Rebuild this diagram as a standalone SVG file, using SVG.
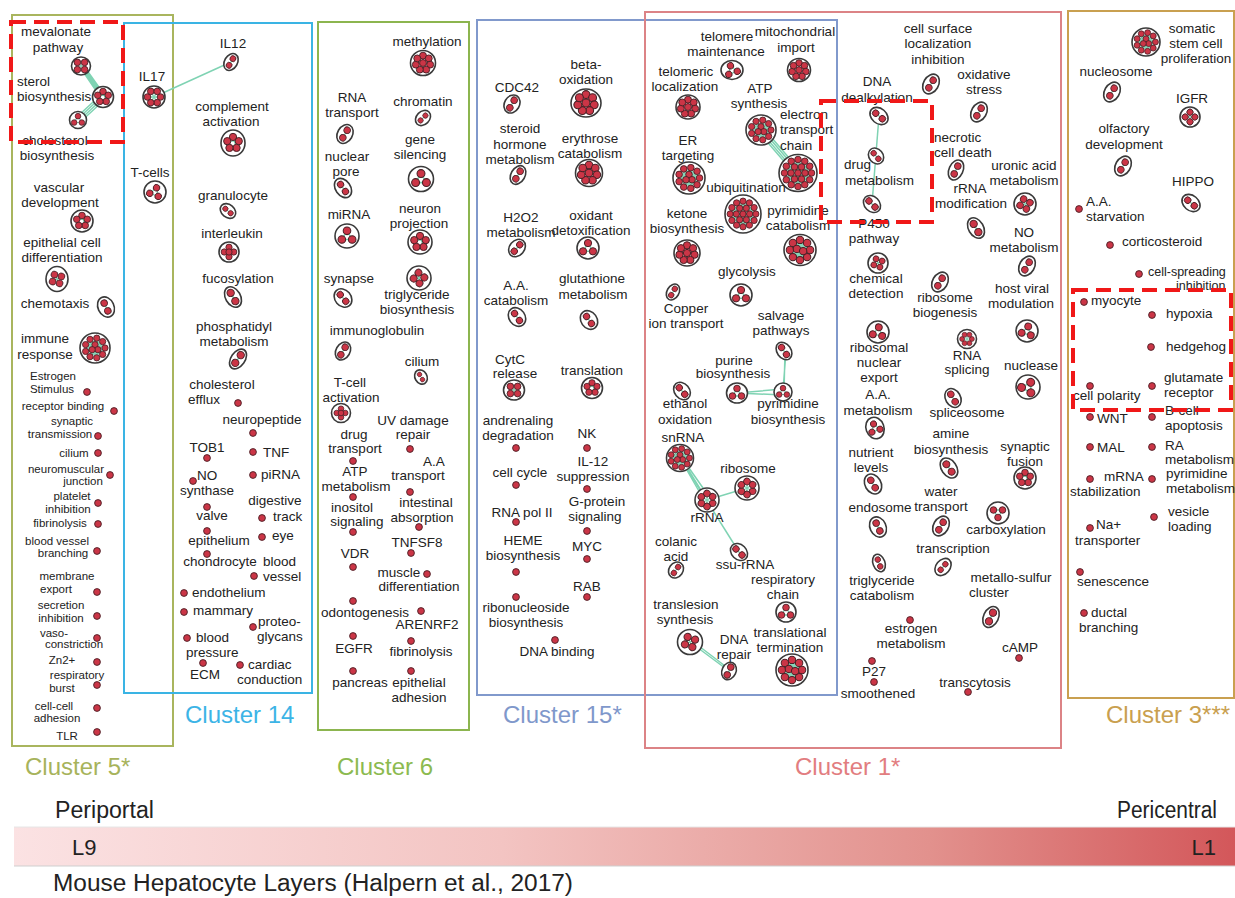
<svg xmlns="http://www.w3.org/2000/svg" xmlns:xlink="http://www.w3.org/1999/xlink" width="1235" height="898" viewBox="0 0 1235 898">
<style>
text{font-family:"Liberation Sans",Arial,sans-serif;fill:#222}
.t{font-size:13.5px;text-anchor:middle}
.tl{font-size:13.5px;text-anchor:start}
.s{font-size:11.5px;text-anchor:middle}
.o{fill:#fff;stroke:#3a3a3a;stroke-width:1.6}
.r{fill:#cb3546;stroke:#4a2026;stroke-width:0.9}
.e{stroke:#7fd3b3;stroke-width:1.3;fill:none}
.c{stroke:#7fd3b3;stroke-width:1.5;fill:none}
.box{fill:none;stroke-width:2}
.dash{fill:none;stroke:#f01818;stroke-width:4;stroke-dasharray:15 8}
.cl{font-size:24px}
</style>
<defs>
<linearGradient id="bar" x1="0" x2="1" y1="0" y2="0">
<stop offset="0" stop-color="#fbe2e3"/>
<stop offset="0.4" stop-color="#f3c4c2"/>
<stop offset="0.75" stop-color="#e2918d"/>
<stop offset="1" stop-color="#d3575a"/>
</linearGradient>
<g id="d2"><line class="e" x1="0" y1="-4.3" x2="0" y2="4.3"/><circle class="r" cx="0" cy="-4.3" r="3.3"/><circle class="r" cx="0" cy="4.3" r="3.3"/></g>
<g id="d3"><path class="e" d="M0-4.5L4.5 3L-4.5 3Z"/><circle class="r" cx="0" cy="-4.5" r="3.3"/><circle class="r" cx="4.5" cy="3" r="3.3"/><circle class="r" cx="-4.5" cy="3" r="3.3"/></g>
<g id="d4"><path class="e" d="M-3.6-3.6L3.6 3.6M3.6-3.6L-3.6 3.6M-3.6-3.6H3.6"/><circle class="r" cx="-3.6" cy="-3.6" r="3.3"/><circle class="r" cx="3.6" cy="-3.6" r="3.3"/><circle class="r" cx="3.6" cy="3.6" r="3.3"/><circle class="r" cx="-3.6" cy="3.6" r="3.3"/></g>
<g id="dplus"><path class="e" d="M0-5V5M-5 0H5"/><circle class="r" cx="0" cy="-5" r="3.3"/><circle class="r" cx="5" cy="0" r="3.3"/><circle class="r" cx="0" cy="5" r="3.3"/><circle class="r" cx="-5" cy="0" r="3.3"/><circle class="r" cx="0" cy="0" r="3.3"/></g>
<g id="d5"><path class="e" d="M0-5.5L5.23-1.7L3.23 4.45L-3.23 4.45L-5.23-1.7Z M0-5.5L3.23 4.45M-5.23-1.7L5.23-1.7"/><circle class="r" cx="0" cy="-5.5" r="3.3"/><circle class="r" cx="5.23" cy="-1.7" r="3.3"/><circle class="r" cx="3.23" cy="4.45" r="3.3"/><circle class="r" cx="-3.23" cy="4.45" r="3.3"/><circle class="r" cx="-5.23" cy="-1.7" r="3.3"/></g>
<g id="d6"><path class="e" d="M6.5 0L-6.5 0M3.25 5.63L-3.25-5.63M-3.25 5.63L3.25-5.63"/><circle class="r" cx="6.5" cy="0" r="3.3"/><circle class="r" cx="3.25" cy="5.63" r="3.3"/><circle class="r" cx="-3.25" cy="5.63" r="3.3"/><circle class="r" cx="-6.5" cy="0" r="3.3"/><circle class="r" cx="-3.25" cy="-5.63" r="3.3"/><circle class="r" cx="3.25" cy="-5.63" r="3.3"/></g>
<g id="d8"><path class="e" d="M0-7L0 0L6.82 1.56M-3.04 6.31L0 0L-5.47-4.36"/><circle class="r" cx="0" cy="-7" r="3.3"/><circle class="r" cx="5.47" cy="-4.36" r="3.3"/><circle class="r" cx="6.82" cy="1.56" r="3.3"/><circle class="r" cx="3.04" cy="6.31" r="3.3"/><circle class="r" cx="-3.04" cy="6.31" r="3.3"/><circle class="r" cx="-6.82" cy="1.56" r="3.3"/><circle class="r" cx="-5.47" cy="-4.36" r="3.3"/><circle class="r" cx="0" cy="0" r="3.3"/></g>
<g id="d10"><circle r="7" fill="#86d5b8"/><circle class="r" cx="9" cy="0" r="3.3"/><circle class="r" cx="6.36" cy="6.36" r="3.3"/><circle class="r" cx="0" cy="9" r="3.3"/><circle class="r" cx="-6.36" cy="6.36" r="3.3"/><circle class="r" cx="-9" cy="0" r="3.3"/><circle class="r" cx="-6.36" cy="-6.36" r="3.3"/><circle class="r" cx="0" cy="-9" r="3.3"/><circle class="r" cx="6.36" cy="-6.36" r="3.3"/><circle class="r" cx="-2.8" cy="-1" r="3.3"/><circle class="r" cx="2.8" cy="1" r="3.3"/></g>
<g id="d12"><circle r="8" fill="#86d5b8"/><circle class="r" cx="10.5" cy="0" r="3.3"/><circle class="r" cx="8.04" cy="6.75" r="3.3"/><circle class="r" cx="1.82" cy="10.34" r="3.3"/><circle class="r" cx="-5.25" cy="9.09" r="3.3"/><circle class="r" cx="-9.87" cy="3.59" r="3.3"/><circle class="r" cx="-9.87" cy="-3.59" r="3.3"/><circle class="r" cx="-5.25" cy="-9.09" r="3.3"/><circle class="r" cx="1.82" cy="-10.34" r="3.3"/><circle class="r" cx="8.04" cy="-6.75" r="3.3"/><circle class="r" cx="0" cy="-3.5" r="3.3"/><circle class="r" cx="3.03" cy="1.75" r="3.3"/><circle class="r" cx="-3.03" cy="1.75" r="3.3"/></g>
<g id="d20"><circle r="11" fill="#86d5b8"/><circle class="r" cx="13.5" cy="0" r="3.3"/><circle class="r" cx="11.69" cy="6.75" r="3.3"/><circle class="r" cx="6.75" cy="11.69" r="3.3"/><circle class="r" cx="0" cy="13.5" r="3.3"/><circle class="r" cx="-6.75" cy="11.69" r="3.3"/><circle class="r" cx="-11.69" cy="6.75" r="3.3"/><circle class="r" cx="-13.5" cy="0" r="3.3"/><circle class="r" cx="-11.69" cy="-6.75" r="3.3"/><circle class="r" cx="-6.75" cy="-11.69" r="3.3"/><circle class="r" cx="0" cy="-13.5" r="3.3"/><circle class="r" cx="6.75" cy="-11.69" r="3.3"/><circle class="r" cx="11.69" cy="-6.75" r="3.3"/><circle class="r" cx="7" cy="0" r="3.3"/><circle class="r" cx="3.5" cy="6.06" r="3.3"/><circle class="r" cx="-3.5" cy="6.06" r="3.3"/><circle class="r" cx="-7" cy="0" r="3.3"/><circle class="r" cx="-3.5" cy="-6.06" r="3.3"/><circle class="r" cx="3.5" cy="-6.06" r="3.3"/><circle class="r" cx="0" cy="0" r="3.3"/></g>
</defs>
<rect width="1235" height="898" fill="#fff"/>

<g id="cluster-boxes">
<rect class="box" x="12" y="15" width="161" height="731" stroke="#a9b55e"/>
<rect class="box" x="124" y="23" width="188" height="670" stroke="#3ab4e4"/>
<rect class="box" x="318" y="22" width="151" height="708" stroke="#8cb54f"/>
<rect class="box" x="477" y="20" width="360" height="675" stroke="#8199cc"/>
<rect class="box" x="645" y="12" width="416" height="736" stroke="#dc8386"/>
<rect class="box" x="1068" y="11" width="166" height="687" stroke="#c9a050"/>
<text class="cl" x="25" y="775" style="fill:#a7b35b">Cluster 5*</text>
<text class="cl" x="185" y="723" style="fill:#3cb4e6">Cluster 14</text>
<text class="cl" x="337" y="775" style="fill:#8cba50">Cluster 6</text>
<text class="cl" x="503" y="723" style="fill:#7f98cb">Cluster 15*</text>
<text class="cl" x="795" y="775" style="fill:#e27d80">Cluster 1*</text>
<text class="cl" x="1106" y="723" style="fill:#c9a04f">Cluster 3***</text>
</g>

<g id="connectors">
<path class="c" d="M80 67L101 98M81 66L102.3 97.5M82 65.5L103.7 96.5M83 64.6L105 95.6"/>
<path class="c" d="M101 94.8L76 117.8M102.3 96.3L77.3 119.3M103.7 97.7L78.7 120.7M105 99.2L80 122.2"/>
<line class="c" x1="154" y1="97" x2="231" y2="62"/>
<path class="c" d="M758.7 132L795.7 175M760.2 130.7L797.2 173.7M761.8 129.3L798.8 172.3M763.3 128L800.3 171"/>
<path class="c" d="M785 351L784 392M786 352L783 390"/>
<path class="c" d="M737 393L783 389M737 393L783 395"/>
<path class="c" d="M680 458L704 500M681 458L707 500M682 458L710 498"/>
<line class="c" x1="680" y1="458" x2="739" y2="552"/>
<line class="c" x1="707" y1="500" x2="747" y2="488"/>
<path class="c" d="M690 642L729 671M691 640L729 669"/>
<line class="c" x1="879" y1="116" x2="872" y2="204"/>
</g>

<g id="cluster5">
<g id="n-mevalonate"><text class="t" x="56" y="36">mevalonate</text><text class="t" x="58" y="52">pathway</text><g transform="translate(81,66)"><ellipse class="o" rx="9.5" ry="9"/><use href="#d4"/></g></g>
<g id="n-sterol"><text class="tl" x="17" y="86">sterol</text><text class="tl" x="17" y="101">biosynthesis</text><g transform="translate(103,97)"><ellipse class="o" rx="10.5" ry="10.5"/><use href="#d5"/></g></g>
<g id="n-cholesterol"><text class="t" x="55" y="145">cholesterol</text><text class="t" x="57" y="160">biosynthesis</text><g transform="translate(78,120)"><ellipse class="o" rx="8.5" ry="8.5"/><use href="#d3" transform="scale(0.85)"/></g></g>
<g id="n-vascular"><text class="t" x="59" y="192">vascular</text><text class="t" x="60" y="207">development</text><g transform="translate(82,221)"><ellipse class="o" rx="11" ry="11"/><use href="#d5"/></g></g>
<g id="n-epithelial"><text class="t" x="62" y="247">epithelial cell</text><text class="t" x="62" y="262">differentiation</text><g transform="translate(57,279)"><ellipse class="o" rx="11" ry="12.5"/><use href="#d4" transform="rotate(15)"/></g></g>
<g id="n-chemotaxis"><text class="t" x="55" y="308">chemotaxis</text><g transform="translate(106,307) rotate(-25)"><ellipse class="o" rx="8" ry="10.5"/><use href="#d2"/></g></g>
<g id="n-immune"><text class="t" x="45" y="343">immune</text><text class="t" x="45" y="359">response</text><g transform="translate(95,348)"><ellipse class="o" rx="15" ry="15"/><use href="#d12" transform="scale(0.95)"/></g></g>
<g id="n-estrogen-stim"><text class="s" x="53" y="380">Estrogen</text><text class="s" x="52" y="393">Stimulus</text><circle class="r" cx="87" cy="392" r="3.4"/></g>
<g id="n-receptor"><text class="s" x="63" y="410">receptor binding</text><circle class="r" cx="114" cy="411" r="3.4"/></g>
<g id="n-synaptic"><text class="s" x="72" y="425">synaptic</text><text class="s" x="60" y="438">transmission</text><circle class="r" cx="98" cy="436" r="3.4"/></g>
<g id="n-cilium5"><text class="s" x="74" y="457">cilium</text><circle class="r" cx="98" cy="453" r="3.4"/></g>
<g id="n-neuromuscular"><text class="s" x="66" y="473">neuromuscular</text><text class="s" x="83" y="485">junction</text><circle class="r" cx="110" cy="475" r="3.4"/></g>
<g id="n-platelet"><text class="s" x="72" y="500">platelet</text><text class="s" x="68" y="513">inhibition</text><circle class="r" cx="98" cy="503" r="3.4"/></g>
<g id="n-fibrinolysis5"><text class="s" x="60" y="527">fibrinolysis</text><circle class="r" cx="98" cy="524" r="3.4"/></g>
<g id="n-bloodvessel"><text class="s" x="57" y="545">blood vessel</text><text class="s" x="63" y="557">branching</text><circle class="r" cx="97" cy="551" r="3.4"/></g>
<g id="n-membrane"><text class="s" x="67" y="580">membrane</text><text class="s" x="56" y="593">export</text><circle class="r" cx="97" cy="592" r="3.4"/></g>
<g id="n-secretion"><text class="s" x="61" y="609">secretion</text><text class="s" x="61" y="622">inhibition</text><circle class="r" cx="97" cy="616" r="3.4"/></g>
<g id="n-vaso"><text class="s" x="54" y="637">vaso-</text><text class="s" x="74" y="648">constriction</text><circle class="r" cx="97" cy="638" r="3.4"/></g>
<g id="n-zn"><text class="s" x="62" y="664">Zn2+</text><circle class="r" cx="97" cy="662" r="3.4"/></g>
<g id="n-respburst"><text class="s" x="77" y="679">respiratory</text><text class="s" x="62" y="692">burst</text><circle class="r" cx="97" cy="685" r="3.4"/></g>
<g id="n-cellcell"><text class="s" x="54" y="710">cell-cell</text><text class="s" x="57" y="722">adhesion</text><circle class="r" cx="97" cy="708" r="3.4"/></g>
<g id="n-tlr"><text class="s" x="67" y="740">TLR</text><circle class="r" cx="97" cy="732" r="3.4"/></g>
</g>

<g id="cluster14">
<g id="n-il12"><text class="t" x="233" y="48">IL12</text><g transform="translate(231,62) rotate(30)"><ellipse class="o" rx="6.5" ry="9"/><use href="#d2" transform="scale(0.9)"/></g></g>
<g id="n-il17"><text class="t" x="152" y="81">IL17</text><g transform="translate(154,97)"><ellipse class="o" rx="11" ry="11"/><use href="#d6"/></g></g>
<g id="n-tcells"><text class="t" x="150" y="177">T-cells</text><g transform="translate(155,192)"><ellipse class="o" rx="11" ry="11"/><use href="#d3" transform="rotate(20)"/></g></g>
<g id="n-complement"><text class="t" x="232" y="111">complement</text><text class="t" x="231" y="126">activation</text><g transform="translate(233,143)"><ellipse class="o" rx="12" ry="13"/><use href="#d5" transform="scale(1.1)"/></g></g>
<g id="n-granulocyte"><text class="t" x="233" y="200">granulocyte</text><g transform="translate(228,211) rotate(-50)"><ellipse class="o" rx="6.5" ry="8.5"/><use href="#d2" transform="scale(0.8)"/></g></g>
<g id="n-interleukin"><text class="t" x="232" y="238">interleukin</text><g transform="translate(229,252)"><ellipse class="o" rx="10" ry="10"/><use href="#dplus" transform="scale(0.95)"/></g></g>
<g id="n-fucosylation"><text class="t" x="238" y="283">fucosylation</text><g transform="translate(233,297) rotate(-30)"><ellipse class="o" rx="7.5" ry="11"/><use href="#d2" transform="scale(1.1)"/></g></g>
<g id="n-phosphatidyl"><text class="t" x="234" y="331">phosphatidyl</text><text class="t" x="234" y="346">metabolism</text><g transform="translate(238,359) rotate(35)"><ellipse class="o" rx="7" ry="11"/><use href="#d2" transform="scale(1.1)"/></g></g>
<g id="n-cholefflux"><text class="t" x="222" y="389">cholesterol</text><text class="tl" x="188" y="404">efflux</text><circle class="r" cx="238" cy="403" r="3.4"/></g>
<g id="n-neuropeptide"><text class="t" x="262" y="424">neuropeptide</text><circle class="r" cx="253" cy="433" r="3.4"/></g>
<g id="n-tob1"><text class="t" x="207" y="452">TOB1</text><circle class="r" cx="207" cy="458" r="3.4"/></g>
<g id="n-tnf"><text class="tl" x="263" y="457">TNF</text><circle class="r" cx="253" cy="452" r="3.4"/></g>
<g id="n-pirna"><text class="tl" x="261" y="479">piRNA</text><circle class="r" cx="253" cy="475" r="3.4"/></g>
<g id="n-no"><text class="tl" x="197" y="480">NO</text><text class="t" x="207" y="495">synthase</text><circle class="r" cx="193" cy="481" r="3.4"/></g>
<g id="n-digestive"><text class="t" x="275" y="505">digestive</text><text class="tl" x="273" y="521">track</text><circle class="r" cx="262" cy="518" r="3.4"/></g>
<g id="n-valve"><text class="t" x="212" y="520">valve</text><circle class="r" cx="207" cy="507" r="3.4"/></g>
<g id="n-epithelium"><text class="t" x="219" y="545">epithelium</text><circle class="r" cx="207" cy="531" r="3.4"/></g>
<g id="n-eye"><text class="tl" x="272" y="540">eye</text><circle class="r" cx="262" cy="537" r="3.4"/></g>
<g id="n-chondrocyte"><text class="t" x="220" y="566">chondrocyte</text><circle class="r" cx="207" cy="554" r="3.4"/></g>
<g id="n-bloodvessel14"><text class="tl" x="263" y="566">blood</text><text class="tl" x="263" y="581">vessel</text><circle class="r" cx="254" cy="576" r="3.4"/></g>
<g id="n-endothelium"><text class="tl" x="192" y="597">endothelium</text><circle class="r" cx="184" cy="593" r="3.4"/></g>
<g id="n-mammary"><text class="tl" x="193" y="615">mammary</text><circle class="r" cx="184" cy="612" r="3.4"/></g>
<g id="n-proteoglycans"><text class="tl" x="258" y="626">proteo-</text><text class="tl" x="257" y="641">glycans</text><circle class="r" cx="253" cy="627" r="3.4"/></g>
<g id="n-bloodpressure"><text class="tl" x="196" y="642">blood</text><text class="tl" x="186" y="657">pressure</text><circle class="r" cx="187" cy="638" r="3.4"/></g>
<g id="n-ecm"><text class="t" x="205" y="679">ECM</text><circle class="r" cx="203" cy="663" r="3.4"/></g>
<g id="n-cardiac"><text class="tl" x="248" y="669">cardiac</text><text class="tl" x="237" y="684">conduction</text><circle class="r" cx="240" cy="665" r="3.4"/></g>
</g>

<g id="cluster6">
<g id="n-methylation"><text class="t" x="427" y="46">methylation</text><g transform="translate(423,63)"><ellipse class="o" rx="12.5" ry="12.5"/><use href="#d8" transform="scale(1.05)"/></g></g>
<g id="n-rnatransport"><text class="t" x="352" y="102">RNA</text><text class="t" x="352" y="117">transport</text><g transform="translate(345,134) rotate(30)"><ellipse class="o" rx="7.5" ry="10"/><use href="#d2"/></g></g>
<g id="n-chromatin"><text class="t" x="423" y="106">chromatin</text><g transform="translate(423,118) rotate(45)"><ellipse class="o" rx="6.5" ry="8.5"/><use href="#d2" transform="scale(0.8)"/></g></g>
<g id="n-genesilencing"><text class="t" x="420" y="144">gene</text><text class="t" x="420" y="159">silencing</text><g transform="translate(421,179)"><ellipse class="o" rx="12.5" ry="12.5"/><use href="#d3" transform="scale(1.2)"/></g></g>
<g id="n-nuclearpore"><text class="t" x="347" y="161">nuclear</text><text class="t" x="346" y="176">pore</text><g transform="translate(343,188) rotate(-35)"><ellipse class="o" rx="7.5" ry="10.5"/><use href="#d2"/></g></g>
<g id="n-mirna"><text class="t" x="349" y="219">miRNA</text><g transform="translate(347,236)"><ellipse class="o" rx="12" ry="12"/><use href="#d3" transform="scale(1.15)"/></g></g>
<g id="n-neuron"><text class="t" x="420" y="213">neuron</text><text class="t" x="419" y="228">projection</text><g transform="translate(420,242)"><ellipse class="o" rx="12" ry="12"/><use href="#d5" transform="scale(1.1)"/></g></g>
<g id="n-trigbio"><g transform="translate(419,278)"><ellipse class="o" rx="12" ry="12"/><use href="#d4" transform="rotate(40) scale(1.05)"/></g><text class="t" x="417" y="299">triglyceride</text><text class="t" x="417" y="314">biosynthesis</text></g>
<g id="n-synapse"><text class="t" x="349" y="283">synapse</text><g transform="translate(343,298) rotate(-40)"><ellipse class="o" rx="8" ry="10"/><use href="#d2"/></g></g>
<g id="n-immunoglobulin"><text class="t" x="377" y="335">immunoglobulin</text><g transform="translate(343,351) rotate(30)"><ellipse class="o" rx="7" ry="9.5"/><use href="#d2"/></g></g>
<g id="n-cilium6"><text class="t" x="422" y="366">cilium</text><g transform="translate(421,377) rotate(-30)"><ellipse class="o" rx="6" ry="7.5"/><use href="#d2" transform="scale(0.7)"/></g></g>
<g id="n-tcellact"><text class="t" x="350" y="387">T-cell</text><text class="t" x="351" y="402">activation</text><g transform="translate(341,413)"><ellipse class="o" rx="9.5" ry="9.5"/><use href="#dplus" transform="scale(0.85)"/></g></g>
<g id="n-uvdamage"><text class="t" x="413" y="425">UV damage</text><text class="t" x="413" y="439">repair</text><circle class="r" cx="410" cy="449" r="3.4"/></g>
<g id="n-drugtransport"><text class="t" x="354" y="439">drug</text><text class="t" x="355" y="453">transport</text><circle class="r" cx="353" cy="461" r="3.4"/></g>
<g id="n-aatransport"><text class="t" x="434" y="466">A.A</text><text class="t" x="418" y="480">transport</text><circle class="r" cx="410" cy="492" r="3.4"/></g>
<g id="n-atpmet"><text class="t" x="355" y="476">ATP</text><text class="t" x="356" y="491">metabolism</text><circle class="r" cx="353" cy="497" r="3.4"/></g>
<g id="n-inositol"><text class="t" x="352" y="512">inositol</text><text class="t" x="357" y="526">signaling</text><circle class="r" cx="353" cy="532" r="3.4"/></g>
<g id="n-intestinal"><text class="t" x="426" y="507">intestinal</text><text class="t" x="422" y="522">absorption</text><circle class="r" cx="419" cy="527" r="3.4"/></g>
<g id="n-tnfsf8"><text class="t" x="417" y="547">TNFSF8</text><circle class="r" cx="411" cy="553" r="3.4"/></g>
<g id="n-vdr"><text class="t" x="355" y="558">VDR</text><circle class="r" cx="353" cy="567" r="3.4"/></g>
<g id="n-muscle"><text class="t" x="399" y="577">muscle</text><text class="t" x="419" y="591">differentiation</text><circle class="r" cx="427" cy="574" r="3.4"/></g>
<g id="n-odonto"><text class="t" x="365" y="617">odontogenesis</text><circle class="r" cx="353" cy="601" r="3.4"/></g>
<g id="n-arenrf2"><text class="t" x="427" y="629">ARENRF2</text><circle class="r" cx="421" cy="611" r="3.4"/></g>
<g id="n-egfr"><text class="t" x="354" y="653">EGFR</text><circle class="r" cx="353" cy="636" r="3.4"/></g>
<g id="n-fibrinolysis6"><text class="t" x="421" y="656">fibrinolysis</text><circle class="r" cx="411" cy="641" r="3.4"/></g>
<g id="n-pancreas"><text class="t" x="360" y="687">pancreas</text><circle class="r" cx="353" cy="671" r="3.4"/></g>
<g id="n-epiadhesion"><text class="t" x="419" y="687">epithelial</text><text class="t" x="419" y="702">adhesion</text><circle class="r" cx="411" cy="671" r="3.4"/></g>
</g>

<g id="cluster15">
<g id="n-cdc42"><text class="t" x="517" y="92">CDC42</text><g transform="translate(512,104) rotate(30)"><ellipse class="o" rx="7.5" ry="9.5"/><use href="#d2"/></g></g>
<g id="n-betaox"><text class="t" x="586" y="69">beta-</text><text class="t" x="586" y="84">oxidation</text><g transform="translate(586,103)"><ellipse class="o" rx="15" ry="14"/><use href="#d8" transform="scale(1.2)"/></g></g>
<g id="n-steroid"><text class="t" x="520" y="133">steroid</text><text class="t" x="520" y="149">hormone</text><text class="t" x="520" y="164">metabolism</text><g transform="translate(518,175) rotate(30)"><ellipse class="o" rx="7" ry="10"/><use href="#d2"/></g></g>
<g id="n-erythrose"><text class="t" x="590" y="143">erythrose</text><text class="t" x="590" y="158">catabolism</text><g transform="translate(589,173)"><ellipse class="o" rx="13.5" ry="13.5"/><use href="#d8" transform="scale(1.15)"/></g></g>
<g id="n-h2o2"><text class="t" x="521" y="222">H2O2</text><text class="t" x="521" y="237">metabolism</text><g transform="translate(517,248) rotate(40)"><ellipse class="o" rx="7.5" ry="9.5"/><use href="#d2"/></g></g>
<g id="n-oxidant"><text class="t" x="591" y="220">oxidant</text><text class="t" x="591" y="235">detoxification</text><g transform="translate(588,248)"><ellipse class="o" rx="11" ry="11"/><use href="#d3" transform="scale(1.1)"/></g></g>
<g id="n-aacat"><text class="t" x="516" y="290">A.A.</text><text class="t" x="516" y="305">catabolism</text><g transform="translate(517,317) rotate(-35)"><ellipse class="o" rx="8" ry="10"/><use href="#d2"/></g></g>
<g id="n-glutathione"><text class="t" x="592" y="283">glutathione</text><text class="t" x="593" y="299">metabolism</text><g transform="translate(589,320) rotate(-35)"><ellipse class="o" rx="8" ry="10"/><use href="#d2"/></g></g>
<g id="n-cytc"><text class="t" x="510" y="364">CytC</text><text class="t" x="515" y="378">release</text><g transform="translate(514,390)"><ellipse class="o" rx="10.5" ry="10"/><use href="#d4"/></g></g>
<g id="n-translation"><text class="t" x="592" y="375">translation</text><g transform="translate(592,388)"><ellipse class="o" rx="10.5" ry="10.5"/><use href="#d5" transform="scale(0.95)"/></g></g>
<g id="n-andrenaling"><text class="t" x="518" y="425">andrenaling</text><text class="t" x="518" y="440">degradation</text><circle class="r" cx="516" cy="448" r="3.4"/></g>
<g id="n-nk"><text class="t" x="587" y="438">NK</text><circle class="r" cx="587" cy="448" r="3.4"/></g>
<g id="n-cellcycle"><text class="t" x="520" y="477">cell cycle</text><circle class="r" cx="516" cy="485" r="3.4"/></g>
<g id="n-il12s"><text class="t" x="593" y="466">IL-12</text><text class="t" x="593" y="481">suppression</text><circle class="r" cx="587" cy="489" r="3.4"/></g>
<g id="n-rnapol"><text class="t" x="522" y="517">RNA pol II</text><circle class="r" cx="516" cy="522" r="3.4"/></g>
<g id="n-gprotein"><text class="t" x="597" y="506">G-protein</text><text class="t" x="595" y="521">signaling</text><circle class="r" cx="587" cy="531" r="3.4"/></g>
<g id="n-heme"><text class="t" x="523" y="545">HEME</text><text class="t" x="523" y="560">biosynthesis</text><circle class="r" cx="516" cy="572" r="3.4"/></g>
<g id="n-myc"><text class="t" x="587" y="551">MYC</text><circle class="r" cx="587" cy="559" r="3.4"/></g>
<g id="n-rab"><text class="t" x="587" y="591">RAB</text><circle class="r" cx="587" cy="597" r="3.4"/></g>
<g id="n-ribonuc"><text class="t" x="526" y="612">ribonucleoside</text><text class="t" x="526" y="627">biosynthesis</text><circle class="r" cx="516" cy="597" r="3.4"/></g>
<g id="n-dnabinding"><text class="t" x="557" y="656">DNA binding</text><circle class="r" cx="555" cy="640" r="3.4"/></g>
</g>

<g id="cluster1">
<g id="n-telomere"><text class="t" x="727" y="41">telomere</text><text class="t" x="726" y="56">maintenance</text><g transform="translate(732,70)"><ellipse class="o" rx="11" ry="9.5"/><use href="#d3" transform="rotate(-20)"/></g></g>
<g id="n-mito"><text class="t" x="795" y="36">mitochondrial</text><text class="t" x="796" y="52">import</text><g transform="translate(799,70)"><ellipse class="o" rx="11.5" ry="11.5"/><use href="#d8"/></g></g>
<g id="n-telomeric"><text class="t" x="686" y="76">telomeric</text><text class="t" x="685" y="91">localization</text><g transform="translate(688,107)"><ellipse class="o" rx="12" ry="12"/><use href="#d8" transform="scale(1.05)"/></g></g>
<g id="n-atp"><text class="t" x="760" y="93">ATP</text><text class="t" x="759" y="108">synthesis</text><g transform="translate(761,130)"><ellipse class="o" rx="15" ry="15"/><use href="#d12" transform="scale(0.95)"/></g></g>
<g id="n-etc"><text class="tl" x="780" y="119">electron</text><text class="tl" x="780" y="134">transport</text><text class="tl" x="780" y="150">chain</text><g transform="translate(798,173)"><ellipse class="o" rx="19" ry="18.5"/><use href="#d20"/></g></g>
<g id="n-er"><text class="t" x="688" y="145">ER</text><text class="t" x="688" y="160">targeting</text><g transform="translate(689,178)"><ellipse class="o" rx="16" ry="16"/><use href="#d12"/></g></g>
<g id="n-ubiq"><text class="t" x="746" y="192">ubiquitination</text><g transform="translate(743,214)"><ellipse class="o" rx="18" ry="19"/><use href="#d20" transform="scale(0.95)"/></g></g>
<g id="n-ketone"><text class="t" x="687" y="218">ketone</text><text class="t" x="687" y="233">biosynthesis</text><g transform="translate(687,253)"><ellipse class="o" rx="13" ry="13"/><use href="#d8" transform="scale(1.1)"/></g></g>
<g id="n-pyrcat"><text class="t" x="798" y="215">pyrimidine</text><text class="t" x="798" y="230">catabolism</text><g transform="translate(800,250)"><ellipse class="o" rx="16" ry="15.5"/><use href="#d10" transform="scale(1.12)"/></g></g>
<g id="n-glycolysis"><text class="t" x="747" y="276">glycolysis</text><g transform="translate(741,295)"><ellipse class="o" rx="11" ry="11"/><use href="#d3" transform="scale(1.1)"/></g></g>
<g id="n-copper"><g transform="translate(673,292) rotate(30)"><ellipse class="o" rx="6" ry="8.5"/><use href="#d2" transform="scale(0.85)"/></g><text class="t" x="686" y="313">Copper</text><text class="t" x="686" y="328">ion transport</text></g>
<g id="n-salvage"><text class="t" x="781" y="320">salvage</text><text class="t" x="781" y="335">pathways</text><g transform="translate(784,351) rotate(-35)"><ellipse class="o" rx="7" ry="9.5"/><use href="#d2"/></g></g>
<g id="n-purine"><text class="t" x="734" y="365">purine</text><text class="t" x="733" y="378">biosynthesis</text><g transform="translate(737,393)"><ellipse class="o" rx="10.5" ry="10"/><use href="#d3"/></g></g>
<g id="n-pyrbio"><g transform="translate(783,392)"><ellipse class="o" rx="9" ry="9"/><use href="#d3" transform="scale(0.85)"/></g><text class="t" x="788" y="408">pyrimidine</text><text class="t" x="788" y="424">biosynthesis</text></g>
<g id="n-ethanol"><g transform="translate(682,391) rotate(-40)"><ellipse class="o" rx="7.5" ry="9.5"/><use href="#d2"/></g><text class="t" x="685" y="408">ethanol</text><text class="t" x="685" y="424">oxidation</text></g>
<g id="n-snrna"><text class="t" x="683" y="442">snRNA</text><g transform="translate(680,458)"><ellipse class="o" rx="13.5" ry="13.5"/><use href="#d12" transform="scale(0.9)"/></g></g>
<g id="n-ribosome"><text class="t" x="748" y="473">ribosome</text><g transform="translate(747,488)"><ellipse class="o" rx="12" ry="12"/><use href="#d6" transform="rotate(30)"/></g></g>
<g id="n-rrna"><g transform="translate(707,500)"><ellipse class="o" rx="12" ry="12"/><use href="#d6" transform="rotate(30)"/></g><text class="t" x="707" y="522">rRNA</text></g>
<g id="n-ssu"><g transform="translate(739,552) rotate(-45)"><ellipse class="o" rx="7.5" ry="9.5"/><use href="#d2"/></g><text class="t" x="745" y="569">ssu-rRNA</text></g>
<g id="n-colanic"><text class="t" x="676" y="546">colanic</text><text class="t" x="676" y="561">acid</text><g transform="translate(676,570) rotate(35)"><ellipse class="o" rx="7" ry="8.5"/><use href="#d2" transform="scale(0.85)"/></g></g>
<g id="n-respchain"><text class="t" x="783" y="584">respiratory</text><text class="t" x="783" y="599">chain</text><g transform="translate(786,612)"><ellipse class="o" rx="10" ry="10"/><use href="#d3"/></g></g>
<g id="n-translesion"><text class="t" x="686" y="609">translesion</text><text class="t" x="685" y="624">synthesis</text><g transform="translate(690,642)"><ellipse class="o" rx="12.5" ry="12.5"/><use href="#d4" transform="rotate(20) scale(1.1)"/></g></g>
<g id="n-dnarepair"><text class="t" x="734" y="644">DNA</text><text class="t" x="734" y="659">repair</text><g transform="translate(729,671) rotate(25)"><ellipse class="o" rx="7" ry="9"/><use href="#d2"/></g></g>
<g id="n-transterm"><text class="t" x="790" y="637">translational</text><text class="t" x="790" y="652">termination</text><g transform="translate(792,670)"><ellipse class="o" rx="16" ry="16"/><use href="#d10" transform="scale(1.12)"/></g></g>
<g id="n-cellsurface"><text class="t" x="938" y="33">cell surface</text><text class="t" x="938" y="48">localization</text><text class="t" x="938" y="64">inhibition</text><g transform="translate(931,84) rotate(30)"><ellipse class="o" rx="7.5" ry="10.5"/><use href="#d2"/></g></g>
<g id="n-oxstress"><text class="t" x="984" y="79">oxidative</text><text class="t" x="984" y="94">stress</text><g transform="translate(979,112) rotate(30)"><ellipse class="o" rx="7.5" ry="10.5"/><use href="#d2"/></g></g>
<g id="n-dealkyl"><text class="t" x="877" y="86">DNA</text><text class="t" x="877" y="102">dealkylation</text><g transform="translate(879,116) rotate(-50)"><ellipse class="o" rx="7.5" ry="10"/><use href="#d2"/></g></g>
<g id="n-drugmet"><g transform="translate(876,156) rotate(-40)"><ellipse class="o" rx="7" ry="8.5"/><use href="#d2" transform="scale(0.85)"/></g><text class="tl" x="844" y="169">drug</text><text class="tl" x="845" y="185">metabolism</text></g>
<g id="n-p450"><g transform="translate(872,204) rotate(-45)"><ellipse class="o" rx="7.5" ry="9.5"/><use href="#d2"/></g><text class="t" x="874" y="228">P450</text><text class="t" x="874" y="243">pathway</text></g>
<g id="n-necrotic"><text class="tl" x="934" y="142">necrotic</text><text class="tl" x="934" y="157">cell death</text><g transform="translate(956,170) rotate(25)"><ellipse class="o" rx="7" ry="10.5"/><use href="#d2"/></g></g>
<g id="n-uronic"><text class="t" x="1024" y="170">uronic acid</text><text class="t" x="1024" y="185">metabolism</text><g transform="translate(1025,204)"><ellipse class="o" rx="11" ry="11"/><use href="#d4" transform="rotate(30)"/></g></g>
<g id="n-rrnamod"><text class="t" x="970" y="193">rRNA</text><text class="t" x="971" y="208">modification</text><g transform="translate(976,228) rotate(-30)"><ellipse class="o" rx="7.5" ry="11"/><use href="#d2" transform="scale(1.1)"/></g></g>
<g id="n-nomet"><text class="t" x="1024" y="237">NO</text><text class="t" x="1024" y="252">metabolism</text><g transform="translate(1027,266) rotate(30)"><ellipse class="o" rx="7.5" ry="10.5"/><use href="#d2"/></g></g>
<g id="n-chemdet"><g transform="translate(878,263)"><ellipse class="o" rx="10" ry="10"/><use href="#d4" transform="rotate(20) scale(0.9)"/></g><text class="t" x="876" y="283">chemical</text><text class="t" x="876" y="298">detection</text></g>
<g id="n-ribobiog"><g transform="translate(940,282) rotate(30)"><ellipse class="o" rx="7.5" ry="10.5"/><use href="#d2"/></g><text class="t" x="945" y="302">ribosome</text><text class="t" x="945" y="317">biogenesis</text></g>
<g id="n-hostviral"><text class="t" x="1022" y="293">host viral</text><text class="t" x="1021" y="308">modulation</text><g transform="translate(1027,331)"><ellipse class="o" rx="11" ry="11"/><use href="#d3" transform="rotate(15) scale(1.05)"/></g></g>
<g id="n-ribonuclexp"><g transform="translate(878,332)"><ellipse class="o" rx="11" ry="11"/><use href="#d3" transform="rotate(10) scale(1.05)"/></g><text class="t" x="879" y="352">ribosomal</text><text class="t" x="879" y="367">nuclear</text><text class="t" x="879" y="382">export</text></g>
<g id="n-rnasplicing"><g transform="translate(967,339)"><ellipse class="o" rx="9.5" ry="9.5"/><use href="#d6" transform="scale(0.75)"/></g><text class="t" x="967" y="360">RNA</text><text class="t" x="967" y="374">splicing</text></g>
<g id="n-nuclease"><text class="t" x="1031" y="370">nuclease</text><g transform="translate(1028,387)"><ellipse class="o" rx="12" ry="12"/><use href="#d3" transform="rotate(30) scale(1.2)"/></g></g>
<g id="n-aamet"><text class="t" x="878" y="399">A.A.</text><text class="t" x="878" y="415">metabolism</text><g transform="translate(875,428) rotate(-20)"><ellipse class="o" rx="9" ry="11"/><use href="#d3" transform="scale(0.95)"/></g></g>
<g id="n-spliceosome"><g transform="translate(953,398) rotate(-30)"><ellipse class="o" rx="7.5" ry="10"/><use href="#d2"/></g><text class="t" x="967" y="417">spliceosome</text></g>
<g id="n-amine"><text class="t" x="951" y="438">amine</text><text class="t" x="951" y="454">biosynthesis</text><g transform="translate(949,468) rotate(-35)"><ellipse class="o" rx="7.5" ry="11"/><use href="#d2" transform="scale(1.05)"/></g></g>
<g id="n-synfusion"><text class="t" x="1025" y="451">synaptic</text><text class="t" x="1025" y="466">fusion</text><g transform="translate(1025,478)"><ellipse class="o" rx="11" ry="11"/><use href="#d5"/></g></g>
<g id="n-nutrient"><text class="t" x="871" y="457">nutrient</text><text class="t" x="871" y="472">levels</text><g transform="translate(873,484) rotate(-30)"><ellipse class="o" rx="8" ry="10.5"/><use href="#d2"/></g></g>
<g id="n-water"><text class="t" x="941" y="496">water</text><text class="t" x="941" y="511">transport</text><g transform="translate(941,526) rotate(30)"><ellipse class="o" rx="7.5" ry="10.5"/><use href="#d2"/></g></g>
<g id="n-endosome"><text class="t" x="880" y="512">endosome</text><g transform="translate(878,527) rotate(-25)"><ellipse class="o" rx="8" ry="10.5"/><use href="#d2"/></g></g>
<g id="n-carbox"><g transform="translate(998,513)"><ellipse class="o" rx="11" ry="11"/><use href="#d3" transform="rotate(180)"/></g><text class="t" x="1006" y="534">carboxylation</text></g>
<g id="n-transcription"><text class="t" x="953" y="553">transcription</text><g transform="translate(943,567) rotate(40)"><ellipse class="o" rx="7" ry="9.5"/><use href="#d2" transform="scale(0.85)"/></g></g>
<g id="n-trigcat"><g transform="translate(879,563) rotate(-20)"><ellipse class="o" rx="6" ry="9"/><use href="#d2" transform="scale(0.85)"/></g><text class="t" x="882" y="585">triglyceride</text><text class="t" x="882" y="600">catabolism</text></g>
<g id="n-metallo"><text class="t" x="1011" y="582">metallo-sulfur</text><text class="tl" x="969" y="597">cluster</text><g transform="translate(991,617) rotate(25)"><ellipse class="o" rx="7.5" ry="11"/><use href="#d2" transform="scale(1.1)"/></g></g>
<g id="n-estrogenmet"><text class="t" x="911" y="633">estrogen</text><text class="t" x="911" y="648">metabolism</text><circle class="r" cx="910" cy="620" r="3.4"/></g>
<g id="n-camp"><text class="t" x="1020" y="652">cAMP</text><circle class="r" cx="1019" cy="658" r="3.4"/></g>
<g id="n-p27"><text class="t" x="874" y="676">P27</text><circle class="r" cx="872" cy="661" r="3.4"/></g>
<g id="n-smoothened"><text class="t" x="878" y="698">smoothened</text><circle class="r" cx="874" cy="682" r="3.4"/></g>
<g id="n-transcytosis"><text class="t" x="975" y="687">transcytosis</text><circle class="r" cx="968" cy="692" r="3.4"/></g>
</g>

<g id="cluster3">
<g id="n-somatic"><g transform="translate(1146,42)"><ellipse class="o" rx="14" ry="14"/><use href="#d12" transform="scale(0.9)"/></g><text class="t" x="1192" y="33">somatic</text><text class="t" x="1196" y="48">stem cell</text><text class="t" x="1196" y="63">proliferation</text></g>
<g id="n-nucleosome"><text class="t" x="1116" y="76">nucleosome</text><g transform="translate(1112,92) rotate(30)"><ellipse class="o" rx="7.5" ry="10.5"/><use href="#d2"/></g></g>
<g id="n-igfr"><text class="t" x="1192" y="103">IGFR</text><g transform="translate(1190,117)"><ellipse class="o" rx="10" ry="10"/><use href="#d4" transform="rotate(45) scale(0.95)"/></g></g>
<g id="n-olfactory"><text class="t" x="1124" y="133">olfactory</text><text class="t" x="1124" y="149">development</text><g transform="translate(1123,166) rotate(30)"><ellipse class="o" rx="7.5" ry="10.5"/><use href="#d2"/></g></g>
<g id="n-hippo"><text class="t" x="1193" y="186">HIPPO</text><g transform="translate(1191,203) rotate(-50)"><ellipse class="o" rx="7.5" ry="10"/><use href="#d2"/></g></g>
<g id="n-aastarv"><text class="tl" x="1086" y="206">A.A.</text><text class="tl" x="1086" y="221">starvation</text><circle class="r" cx="1079" cy="209" r="3.4"/></g>
<g id="n-cortico"><text class="tl" x="1122" y="246">corticosteroid</text><circle class="r" cx="1110" cy="245" r="3.4"/></g>
<g id="n-cellspread"><text class="tl" x="1148" y="276" style="font-size:12.5px">cell-spreading</text><text class="tl" x="1176" y="290" style="font-size:12.5px">inhibition</text><circle class="r" cx="1139" cy="274" r="3.4"/></g>
<g id="n-myocyte"><text class="tl" x="1091" y="305">myocyte</text><circle class="r" cx="1084" cy="302" r="3.4"/></g>
<g id="n-hypoxia"><text class="tl" x="1166" y="318">hypoxia</text><circle class="r" cx="1152" cy="315" r="3.4"/></g>
<g id="n-hedgehog"><text class="tl" x="1166" y="351">hedgehog</text><circle class="r" cx="1151" cy="347" r="3.4"/></g>
<g id="n-glutamate"><text class="tl" x="1164" y="382">glutamate</text><text class="tl" x="1164" y="397">receptor</text><circle class="r" cx="1152" cy="386" r="3.4"/></g>
<g id="n-cellpolarity"><text class="tl" x="1073" y="400">cell polarity</text><circle class="r" cx="1090" cy="386" r="3.4"/></g>
<g id="n-wnt"><text class="tl" x="1097" y="423">WNT</text><circle class="r" cx="1090" cy="417" r="3.4"/></g>
<g id="n-bcell"><text class="tl" x="1165" y="415">B-cell</text><text class="tl" x="1165" y="430">apoptosis</text><circle class="r" cx="1152" cy="417" r="3.4"/></g>
<g id="n-mal"><text class="tl" x="1097" y="452">MAL</text><circle class="r" cx="1090" cy="447" r="3.4"/></g>
<g id="n-ra"><text class="tl" x="1165" y="450">RA</text><text class="tl" x="1165" y="464">metabolism</text><circle class="r" cx="1152" cy="447" r="3.4"/></g>
<g id="n-mrna"><text class="tl" x="1104" y="481">mRNA</text><text class="tl" x="1070" y="496">stabilization</text><circle class="r" cx="1090" cy="479" r="3.4"/></g>
<g id="n-pyrmet"><text class="tl" x="1166" y="478">pyrimidine</text><text class="tl" x="1166" y="493">metabolism</text><circle class="r" cx="1152" cy="479" r="3.4"/></g>
<g id="n-vesicle"><text class="tl" x="1168" y="516">vesicle</text><text class="tl" x="1168" y="531">loading</text><circle class="r" cx="1154" cy="517" r="3.4"/></g>
<g id="n-na"><text class="tl" x="1096" y="529">Na+</text><text class="tl" x="1075" y="545">transporter</text><circle class="r" cx="1090" cy="528" r="3.4"/></g>
<g id="n-senescence"><text class="tl" x="1077" y="586">senescence</text><circle class="r" cx="1080" cy="572" r="3.4"/></g>
<g id="n-ductal"><text class="tl" x="1091" y="617">ductal</text><text class="tl" x="1079" y="632">branching</text><circle class="r" cx="1084" cy="613" r="3.4"/></g>
</g>

<g id="highlights">
<rect class="dash" x="11" y="22" width="112" height="120"/>
<rect class="dash" x="821" y="101" width="111" height="121"/>
<rect class="dash" x="1073" y="290" width="158" height="120"/>
</g>

<g id="legend">
<text x="55" y="818" style="font-size:23px" textLength="99" lengthAdjust="spacingAndGlyphs">Periportal</text>
<text x="1117" y="818" style="font-size:23px" textLength="100" lengthAdjust="spacingAndGlyphs">Pericentral</text>
<rect x="14" y="827" width="1221" height="39" fill="url(#bar)"/>
<line x1="14" y1="827" x2="1235" y2="827" stroke="#e6e6e6" stroke-width="1"/>
<line x1="14" y1="866" x2="1235" y2="866" stroke="#cfcfcf" stroke-width="1"/>
<text x="72" y="855" style="font-size:22px">L9</text>
<text x="1216" y="855" style="font-size:22px;text-anchor:end">L1</text>
<text x="53" y="891" style="font-size:23px" textLength="520" lengthAdjust="spacingAndGlyphs">Mouse Hepatocyte Layers (Halpern et al., 2017)</text>
</g>
</svg>
